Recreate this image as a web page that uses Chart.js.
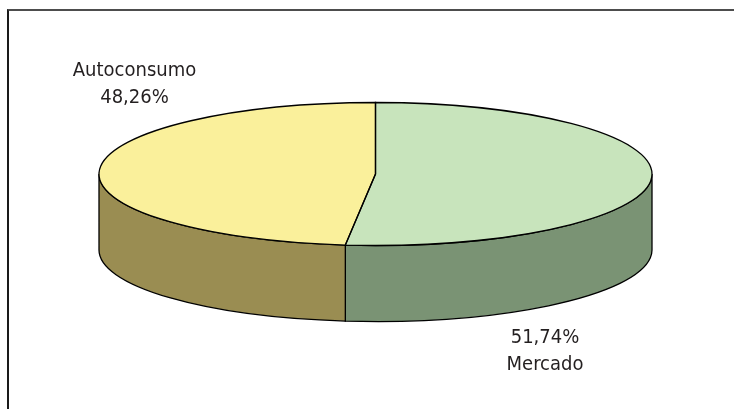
<!DOCTYPE html>
<html>
<head>
<meta charset="utf-8">
<script src="https://cdn.jsdelivr.net/npm/chart.js@4/dist/chart.umd.min.js"></script>
<style>
  html, body { margin: 0; padding: 0; background: #fff; overflow: hidden; }
  #wrap { position: relative; width: 734px; height: 409px; }
  #frame {
    position: absolute; left: 7px; top: 9px; right: -10px; bottom: -10px;
    border-top: 2px solid #4d4d4d; border-left: 2px solid #1a1a1a;
  }
  canvas { position: absolute; left: 0; top: 0; }
</style>
</head>
<body>
<div id="wrap">
  <div id="frame"></div>
  <canvas id="chart" width="734" height="409"></canvas>
</div>
<script>
  // data, in drawing order (clockwise from the top)
  const labels = ['Mercado', 'Autoconsumo'];
  const shares = [51.74, 48.26];
  const topColors = ['#c8e4bc', '#faf09b'];
  const sideColors = ['#7a9374', '#9a8d52'];

  const fmt = (v) => v.toFixed(2).replace('.', ',') + '%';

  // squash the library's pie into a tilted disc with a front wall
  const pie3d = {
    id: 'pie3d',
    beforeDatasetsDraw(chart, args, opts) {
      const ctx = chart.ctx;
      const arcs = chart.getDatasetMeta(0).data;
      const { cx, cy, rx, ry, depth } = opts;

      ctx.save();
      ctx.lineWidth = 1.3;
      ctx.strokeStyle = '#000';
      arcs.forEach((arc, i) => {
        const s = arc.startAngle, e = arc.endAngle;
        for (let k = -1; k <= 1; k++) {
          const lo = Math.max(s, 2 * Math.PI * k);
          const hi = Math.min(e, 2 * Math.PI * k + Math.PI);
          if (hi <= lo) continue;
          ctx.beginPath();
          ctx.ellipse(cx, cy, rx, ry, 0, lo, hi);
          ctx.ellipse(cx, cy + depth, rx, ry, 0, hi, lo, true);
          ctx.closePath();
          ctx.fillStyle = sideColors[i];
          ctx.fill();
          ctx.stroke();
        }
      });
      ctx.restore();

      const a0 = arcs[0];
      ctx.save();
      ctx.translate(cx, cy);
      ctx.scale(rx / a0.outerRadius, ry / a0.outerRadius);
      ctx.translate(-a0.x, -a0.y);
    },
    afterDatasetsDraw(chart, args, opts) {
      const ctx = chart.ctx;
      ctx.restore();
      const arcs = chart.getDatasetMeta(0).data;
      const { cx, cy, rx, ry } = opts;

      ctx.save();
      ctx.lineWidth = 1.3;
      ctx.strokeStyle = '#000';
      arcs.forEach((arc) => {
        ctx.beginPath();
        ctx.moveTo(cx, cy);
        ctx.ellipse(cx, cy, rx, ry, 0, arc.startAngle, arc.endAngle);
        ctx.closePath();
        ctx.stroke();
      });

      ctx.fillStyle = '#231f20';
      ctx.font = '20px "Liberation Sans Narrow", "Arial Narrow", "DejaVu Sans Condensed", sans-serif';
      ctx.textAlign = 'center';
      ctx.textBaseline = 'alphabetic';
      opts.labelPos.forEach((p, i) => {
        const lines = p.valueFirst
          ? [fmt(shares[i]), labels[i]]
          : [labels[i], fmt(shares[i])];
        ctx.fillText(lines[0], p.x, p.y);
        ctx.fillText(lines[1], p.x, p.y + 27);
      });
      ctx.restore();
    }
  };

  new Chart(document.getElementById('chart'), {
    type: 'pie',
    data: {
      labels,
      datasets: [{
        data: shares,
        backgroundColor: topColors,
        borderWidth: 0
      }]
    },
    options: {
      responsive: false,
      animation: false,
      events: [],
      rotation: 0,
      plugins: {
        legend: { display: false },
        tooltip: { enabled: false },
        pie3d: {
          cx: 375.5, cy: 174, rx: 276.5, ry: 71.5, depth: 76,
          labelPos: [
            { x: 545, y: 343, valueFirst: true },
            { x: 134.5, y: 76, valueFirst: false }
          ]
        }
      }
    },
    plugins: [pie3d]
  });
</script>
</body>
</html>
